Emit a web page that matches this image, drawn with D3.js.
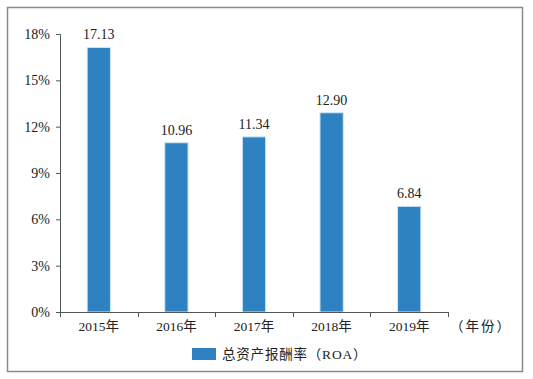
<!DOCTYPE html>
<html>
<head>
<meta charset="utf-8">
<script src="https://cdn.jsdelivr.net/npm/d3@7"></script>
<style>
  body { margin: 0; background: #fff; }
  text { font-family: "Liberation Serif", "Noto Sans CJK SC", serif; fill: #222; }
</style>
</head>
<body>
<div id="chart"></div>
<script>
var years = ["2015年", "2016年", "2017年", "2018年", "2019年"]
var roa = [17.13, 10.96, 11.34, 12.90, 6.84]
var yTicks = [0, 3, 6, 9, 12, 15, 18]
var seriesName = "总资产报酬率（ROA）"
var unitLabel = "（年份）"

var width = 533, height = 379
var margin = { left: 60, right: 85, top: 34, bottom: 67 }

var svg = d3.select("#chart").append("svg")
  .attr("width", width)
  .attr("height", height)

// outer frame
svg.append("rect")
  .attr("x", 7.5).attr("y", 7.5)
  .attr("width", 515).attr("height", 364)
  .attr("fill", "none")
  .attr("stroke", "#8a8a8a")
  .attr("stroke-width", 1.5)

var x = d3.scaleBand()
  .domain(years)
  .range([margin.left, width - margin.right])
  .paddingInner(0.7)
  .paddingOuter(0.35)

var y = d3.scaleLinear()
  .domain([0, 18])
  .range([height - margin.bottom, margin.top])

var plot = svg.append("g")

plot.selectAll("rect.bar")
  .data(roa)
  .enter().append("rect")
    .attr("class", "bar")
    .attr("x", function (d, i) { return x(years[i]) })
    .attr("y", function (d) { return y(d) })
    .attr("width", x.bandwidth())
    .attr("height", function (d) { return y(0) - y(d) })
    .attr("fill", "#2f82c1")
    .attr("stroke", "#cde6f6")
    .attr("stroke-width", 1)

plot.selectAll("text.val")
  .data(roa)
  .enter().append("text")
    .attr("class", "val")
    .attr("x", function (d, i) { return x(years[i]) + x.bandwidth() / 2 })
    .attr("y", function (d) { return y(d) - 8 })
    .attr("text-anchor", "middle")
    .attr("font-size", 14)
    .text(function (d) { return d.toFixed(2) })

// y axis
var yAxis = svg.append("g")
  .attr("transform", "translate(" + margin.left + ",0)")
  .call(d3.axisLeft(y).tickValues(yTicks).tickSize(4).tickPadding(6)
    .tickFormat(function (d) { return d + "%" }))
yAxis.selectAll("text").attr("font-size", 14).style("font-family", "Liberation Serif, serif").attr("fill", "#222")
yAxis.selectAll("path, line").attr("stroke", "#555")

// x axis
var xAxis = svg.append("g")
  .attr("transform", "translate(0," + y(0) + ")")
xAxis.append("line")
  .attr("x1", margin.left).attr("x2", width - margin.right)
  .attr("y1", 0.5).attr("y2", 0.5)
var bounds = d3.range(years.length + 1).map(function (i) {
  return margin.left + (width - margin.left - margin.right) * i / years.length
})
xAxis.selectAll("line.tk")
  .data(bounds)
  .enter().append("line")
    .attr("class", "tk")
    .attr("x1", function (d) { return Math.round(d) + 0.5 })
    .attr("x2", function (d) { return Math.round(d) + 0.5 })
    .attr("y1", 0).attr("y2", 5)
xAxis.selectAll("line").attr("stroke", "#555").attr("stroke-width", 1)
xAxis.selectAll("text.cat")
  .data(years)
  .enter().append("text")
    .attr("class", "cat")
    .attr("x", function (d) { return x(d) + x.bandwidth() / 2 })
    .attr("y", 19)
    .attr("text-anchor", "middle")
    .attr("font-size", 13.5)
    .text(function (d) { return d })
xAxis.append("text")
  .attr("x", width - margin.right + 2)
  .attr("y", 19)
  .attr("font-size", 13.5)
  .attr("letter-spacing", 2)
  .text(unitLabel)

// legend
var legend = svg.append("g").attr("transform", "translate(192,348)")
legend.append("rect")
  .attr("width", 24).attr("height", 12)
  .attr("fill", "#2f82c1")
legend.append("text")
  .attr("x", 30).attr("y", 11)
  .attr("font-size", 13.5)
  .attr("letter-spacing", 0.8)
  .text(seriesName)
</script>
</body>
</html>
